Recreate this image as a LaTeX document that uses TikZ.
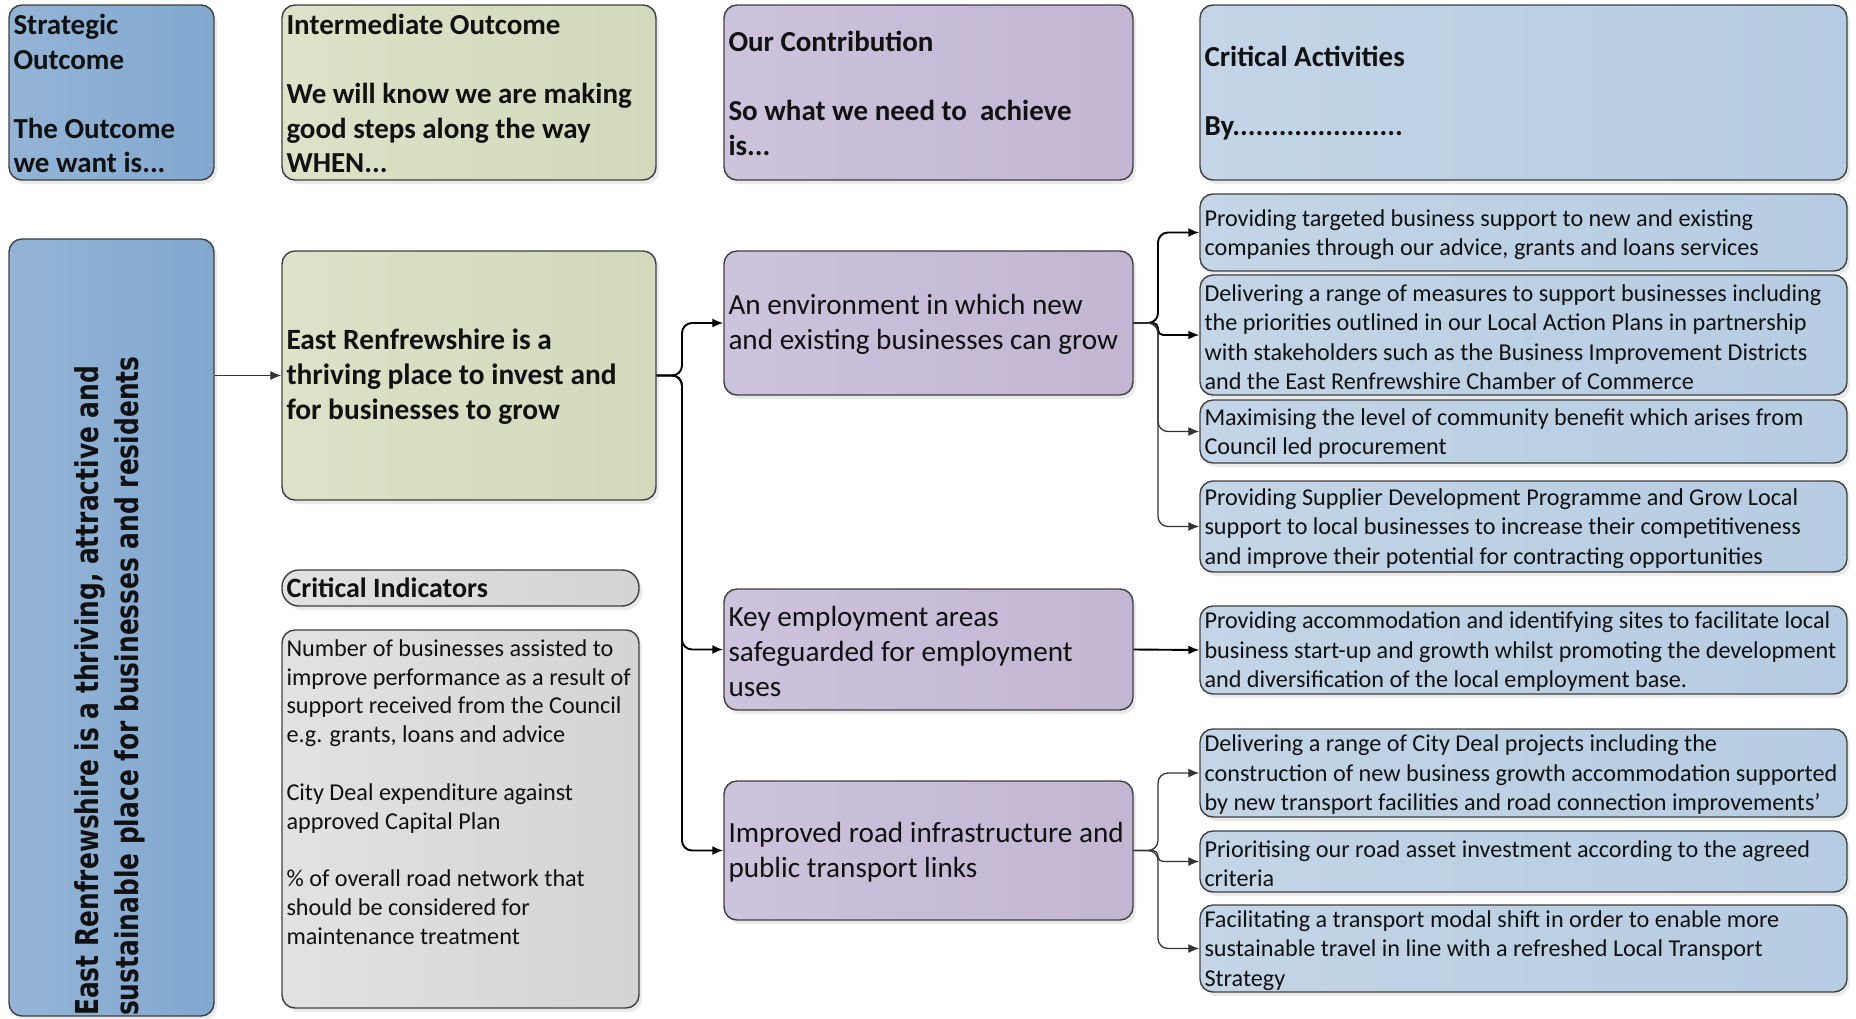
\documentclass[tikz,border=0pt]{standalone}
\usepackage{fontspec}
\setmainfont{Carlito}
\newfontfamily\vfont[FakeStretch=0.79]{DejaVu Sans}
\usetikzlibrary{arrows.meta,shadows}
\definecolor{soL}{HTML}{93B4D6}\definecolor{soR}{HTML}{82A8D0}
\definecolor{ioL}{HTML}{DDE2C8}\definecolor{ioR}{HTML}{D3D9BB}
\definecolor{ocL}{HTML}{CDC3DC}\definecolor{ocR}{HTML}{C2B6D3}
\definecolor{caL}{HTML}{C3D5E6}\definecolor{caR}{HTML}{B6CCE2}
\definecolor{ciL}{HTML}{E2E2E2}\definecolor{ciR}{HTML}{D4D4D4}
\definecolor{boxline}{HTML}{3F3F3F}
\definecolor{textc}{HTML}{111111}
\newcommand\fsHead{\fontsize{29}{34.5}\selectfont\bfseries}
\newcommand\fsMain{\fontsize{29.4}{35}\selectfont\bfseries}
\newcommand\fsCon{\fontsize{29.2}{35}\selectfont}
\newcommand\fsAct{\fontsize{24.2}{29.5}\selectfont}
\newcommand\fsInd{\fontsize{24.2}{28.8}\selectfont}
\begin{document}
\begin{tikzpicture}[x=1pt,y=-1pt,
  box/.style={draw=boxline, line width=1.4pt, rounded corners=13pt, inner sep=0pt,
    drop shadow={shadow xshift=3pt,shadow yshift=-4pt,opacity=0.16}},
  sobox/.style={box,left color=soL,right color=soR},
  iobox/.style={box,left color=ioL,right color=ioR},
  ocbox/.style={box,left color=ocL,right color=ocR},
  cabox/.style={box,left color=caL,right color=caR},
  cibox/.style={box,left color=ciL,right color=ciR},
  txt/.style={anchor=west, align=left, inner sep=0pt, text=textc},
  conn/.style={draw=black, line width=1.9pt, rounded corners=10pt, -{Latex[length=11pt,width=9pt]}},
  thin/.style={draw=black!80, line width=1.3pt},
]
\fill[white] (0,0) rectangle (1856,1018);
\useasboundingbox (0,0) rectangle (1856,1018);

% header row
\node[sobox, minimum width=205pt, minimum height=175pt] (soh) at (111.5,92.5) {};
\node[iobox, minimum width=374pt, minimum height=175pt] (ioh) at (469,92.5) {};
\node[ocbox, minimum width=409pt, minimum height=175pt] (och) at (928.5,92.5) {};
\node[cabox, minimum width=647pt, minimum height=175pt] (cah) at (1523.5,92.5) {};
\node[txt, font=\fsHead] (soht) at ([xshift=5pt,yshift=-1pt]soh.west) {Strategic\\Outcome\\\mbox{}\\The Outcome\\we want is...};
\node[txt, font=\fsHead] (ioht) at ([xshift=5pt,yshift=-1pt]ioh.west) {Intermediate Outcome\\\mbox{}\\We will know we are making\\good steps along the way\\WHEN...};
\node[txt, font=\fsHead] (ocht) at ([xshift=5pt,yshift=-1pt]och.west) {Our Contribution\\\mbox{}\\So what we need to \ achieve\\is...};
\node[txt, font=\fsHead] (caht) at ([xshift=5pt,yshift=-1pt]cah.west) {Critical Activities\\\mbox{}\\By......................};

% strategic outcome
\node[sobox, minimum width=205pt, minimum height=777pt] (so) at (111.5,627.5) {};
\node[rotate=90, anchor=south west, inner sep=0pt, align=left, text=textc,
  font={\vfont\bfseries\fontsize{31.5}{40}\selectfont}] (sot) at (145.5,1016)
  {East Renfrewshire is a thriving, attractive and\\sustainable place for businesses and residents};

% intermediate outcome
\node[iobox, minimum width=374pt, minimum height=249pt] (io) at (469,375.5) {};
\node[txt, font=\fsMain] (iot) at ([xshift=5pt,yshift=-1pt]io.west) {East Renfrewshire is a\\thriving place to invest and\\for businesses to grow};

% critical indicators
\node[cibox, minimum width=357pt, minimum height=36pt, rounded corners=17pt] (cil) at (460.5,588) {};
\node[txt, font={\fontsize{28}{34}\selectfont\bfseries}] (cilt) at ([xshift=5pt]cil.west) {Critical Indicators};
\node[cibox, minimum width=357pt, minimum height=378pt] (ci) at (460.5,819) {};
\node[txt, anchor=north west, font=\fsInd] (cit) at ([xshift=5pt,yshift=-10pt]ci.north west)
  {Number of businesses assisted to\\improve performance as a result of\\support received from the Council\\e.g. grants, loans and advice\\\mbox{}\\City Deal expenditure against\\approved Capital Plan\\\mbox{}\\\% of overall road network that\\should be considered for\\maintenance treatment};

% contributions
\node[ocbox, minimum width=409pt, minimum height=144pt] (c1) at (928.5,323) {};
\node[ocbox, minimum width=409pt, minimum height=121pt] (c2) at (928.5,649.5) {};
\node[ocbox, minimum width=409pt, minimum height=139pt] (c3) at (928.5,850.5) {};
\node[txt, font=\fsCon] (c1t) at ([xshift=5pt,yshift=-1.5pt]c1.west) {An environment in which new\\and existing businesses can grow};
\node[txt, font=\fsCon] (c2t) at ([xshift=5pt,yshift=-1.5pt]c2.west) {Key employment areas\\safeguarded for employment\\uses};
\node[txt, font=\fsCon] (c3t) at ([xshift=5pt,yshift=-1.5pt]c3.west) {Improved road infrastructure and\\public transport links};

% activities
\node[cabox, minimum width=647pt, minimum height=77pt] (a1) at (1523.5,232.5) {};
\node[cabox, minimum width=647pt, minimum height=120pt] (a2) at (1523.5,335) {};
\node[cabox, minimum width=647pt, minimum height=63pt] (a3) at (1523.5,431.5) {};
\node[cabox, minimum width=647pt, minimum height=91pt] (a4) at (1523.5,526.5) {};
\node[cabox, minimum width=647pt, minimum height=88pt] (a5) at (1523.5,650) {};
\node[cabox, minimum width=647pt, minimum height=88pt] (a6) at (1523.5,773) {};
\node[cabox, minimum width=647pt, minimum height=61pt] (a7) at (1523.5,861.5) {};
\node[cabox, minimum width=647pt, minimum height=87pt] (a8) at (1523.5,948.5) {};
\node[txt, font=\fsAct] (a1t) at ([xshift=5pt,yshift=-2pt]a1.west) {Providing targeted business support to new and existing\\companies through our advice, grants and loans services};
\node[txt, font=\fsAct] (a2t) at ([xshift=5pt,yshift=-2pt]a2.west) {Delivering a range of measures to support businesses including\\the priorities outlined in our Local Action Plans in partnership\\with stakeholders such as the Business Improvement Districts\\and the East Renfrewshire Chamber of Commerce};
\node[txt, font=\fsAct] (a3t) at ([xshift=5pt,yshift=-2pt]a3.west) {Maximising the level of community benefit which arises from\\Council led procurement};
\node[txt, font=\fsAct] (a4t) at ([xshift=5pt,yshift=-2pt]a4.west) {Providing Supplier Development Programme and Grow Local\\support to local businesses to increase their competitiveness\\and improve their potential for contracting opportunities};
\node[txt, font=\fsAct] (a5t) at ([xshift=5pt,yshift=-2pt]a5.west) {Providing accommodation and identifying sites to facilitate local\\business start-up and growth whilst promoting the development\\and diversification of the local employment base.};
\node[txt, font=\fsAct] (a6t) at ([xshift=5pt,yshift=-2pt]a6.west) {Delivering a range of City Deal projects including the\\construction of new business growth accommodation supported\\by new transport facilities and road connection improvements’};
\node[txt, font=\fsAct] (a7t) at ([xshift=5pt,yshift=-2pt]a7.west) {Prioritising our road asset investment according to the agreed\\criteria};
\node[txt, font=\fsAct] (a8t) at ([xshift=5pt,yshift=-2pt]a8.west) {Facilitating a transport modal shift in order to enable more\\sustainable travel in line with a refreshed Local Transport\\Strategy};

% connectors
\draw[conn, thin] (so.east |- io.west) -- (io.west);
\coordinate (j1) at (682,375.5);
\draw[conn] (io.east) -- (j1) |- (c1.west);
\draw[conn] (io.east) -- (j1) |- (c2.west);
\draw[conn] (io.east) -- (j1) |- (c3.west);
\coordinate (j2) at (1158,323);
\draw[conn] (c1.east) -- (j2) |- (a1.west);
\draw[conn, rounded corners=5pt] (c1.east) -- (j2) |- (a2.west);
\draw[conn, thin] (c1.east) -- (j2) |- (a3.west);
\draw[conn, thin] (c1.east) -- (j2) |- (a4.west);
\draw[conn] (c2.east) -- (a5.west);
\coordinate (j3) at (1158,850.5);
\draw[conn, thin] (c3.east) -- (j3) |- (a6.west);
\draw[conn, thin, rounded corners=5pt] (c3.east) -- (j3) |- (a7.west);
\draw[conn, thin] (c3.east) -- (j3) |- (a8.west);
\end{tikzpicture}
\end{document}
